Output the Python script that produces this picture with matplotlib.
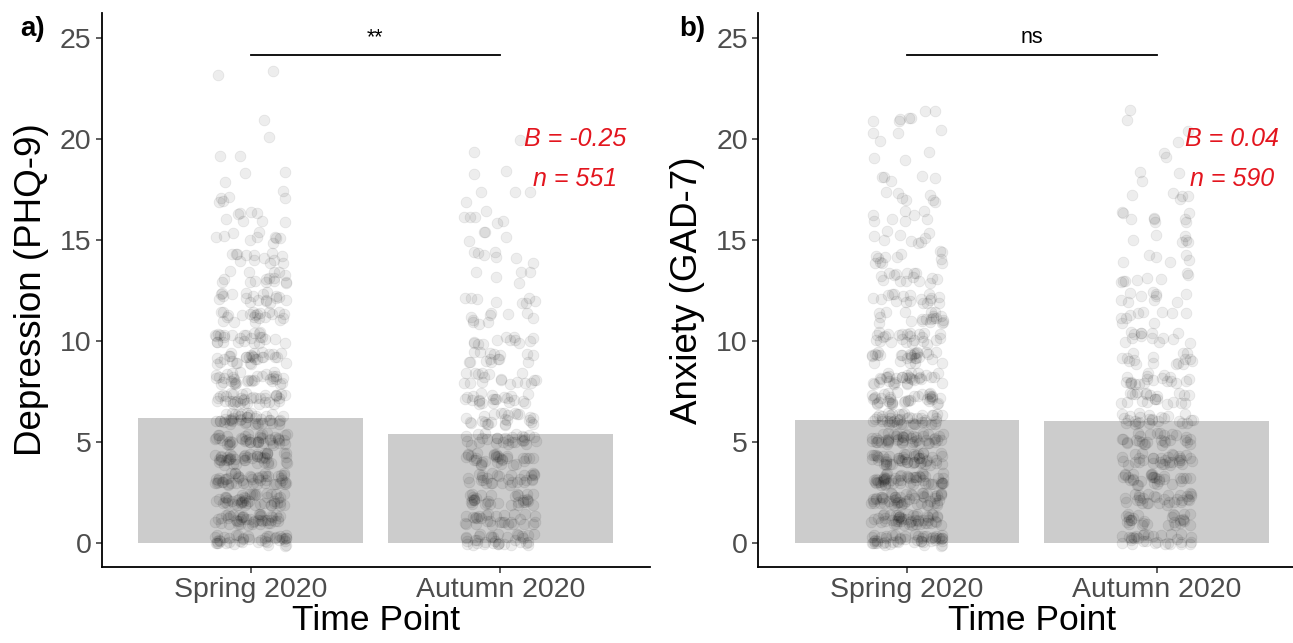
import numpy as np
import matplotlib.pyplot as plt

plt.rcParams["font.family"] = ["Liberation Sans", "DejaVu Sans"]

# data
time_points = ["Spring 2020", "Autumn 2020"]

dep_means = [6.2, 5.4]
anx_means = [6.1, 6.05]

# number of participants at each integer score (0, 1, 2, ...)
dep_spring_counts = [41, 46, 48, 50, 48, 45, 42, 38, 34, 30, 26, 22, 19, 16, 13, 10, 8, 6, 3, 2, 1, 1, 0, 2]
dep_autumn_counts = [35, 30, 32, 30, 32, 28, 25, 22, 18, 15, 12, 10, 8, 5, 7, 4, 6, 4, 2, 1, 1]
anx_spring_counts = [50, 52, 54, 55, 52, 49, 45, 38, 34, 28, 25, 20, 18, 15, 12, 9, 8, 7, 5, 3, 4, 7]
anx_autumn_counts = [30, 28, 30, 30, 32, 28, 26, 22, 20, 16, 14, 10, 10, 8, 6, 6, 9, 5, 3, 2, 2, 2]

dep_stats = ["B = -0.25", "n = 551"]
anx_stats = ["B = 0.04", "n = 590"]

TICK_GREY = "#4D4D4D"
RED = "#E3151E"
MASK = np.uint64(0xFFFFFFFF)


def spread(idx, salt):
    # integer hash -> [0, 1), used as a fixed jitter offset
    h = (idx.astype(np.uint64) * np.uint64(2) + np.uint64(salt)) & MASK
    for _ in range(2):
        h = (h ^ (h >> np.uint64(16))) & MASK
        h = (h * np.uint64(0x45D9F3B)) & MASK
    h = (h ^ (h >> np.uint64(16))) & MASK
    return h.astype(np.float64) / 4294967296.0


def jittered(counts, xpos, start):
    ys = np.repeat(np.arange(len(counts)), counts).astype(float)
    idx = np.arange(len(ys)) + start
    xs = xpos + (spread(idx, 7) - 0.5) * 0.29
    ys = ys + spread(idx, 91) * 0.6 - 0.15
    return xs, ys


def draw_panel(ax, means, counts_list, ylabel, stats, sig):
    x = np.arange(1, len(time_points) + 1)
    ax.bar(x, means, width=0.9, color="#CCCCCC", zorder=1)
    start = 0
    for xi, counts in zip(x, counts_list):
        jx, jy = jittered(counts, xi, start)
        start += len(jx)
        ax.scatter(jx, jy, s=60, color="black", alpha=0.07,
                   edgecolors="black", linewidths=0.6, zorder=2)

    # significance bracket
    ax.plot([1, 2], [24.15, 24.15], color="black", lw=1.3, zorder=3)
    ax.text(1.5, 24.5, sig, ha="center", va="bottom", fontsize=15.5)

    ax.text(2.3, 20.0, stats[0], color=RED, fontsize=18, style="italic",
            ha="center", va="center")
    ax.text(2.3, 18.0, stats[1], color=RED, fontsize=18, style="italic",
            ha="center", va="center")

    ax.set_xlim(0.404, 2.6)
    ax.set_ylim(-1.19, 26.24)
    ax.set_xticks(x)
    ax.set_xticklabels(time_points)
    ax.set_yticks([0, 5, 10, 15, 20, 25])
    ax.tick_params(axis="both", labelsize=20.5, labelcolor=TICK_GREY,
                   color="#333333", length=4.5, width=1.1, pad=3)
    ax.set_xlabel("Time Point", fontsize=25.5, labelpad=1)
    ax.set_ylabel(ylabel, fontsize=26.5, labelpad=8)
    for side in ["top", "right"]:
        ax.spines[side].set_visible(False)
    for side in ["left", "bottom"]:
        ax.spines[side].set_linewidth(1.3)


fig = plt.figure(figsize=(12.93, 6.43), dpi=100)
ax_a = fig.add_axes([0.0787, 0.1187, 0.424, 0.861])
ax_b = fig.add_axes([0.5865, 0.1187, 0.424, 0.861])

draw_panel(ax_a, dep_means, [dep_spring_counts, dep_autumn_counts],
           "Depression (PHQ-9)", dep_stats, "**")
draw_panel(ax_b, anx_means, [anx_spring_counts, anx_autumn_counts],
           "Anxiety (GAD-7)", anx_stats, "ns")

fig.text(0.016, 0.975, "a)", fontsize=20, weight="bold", va="top", ha="left")
fig.text(0.525, 0.975, "b)", fontsize=20, weight="bold", va="top", ha="left")

fig.savefig("out.png", dpi=100)
